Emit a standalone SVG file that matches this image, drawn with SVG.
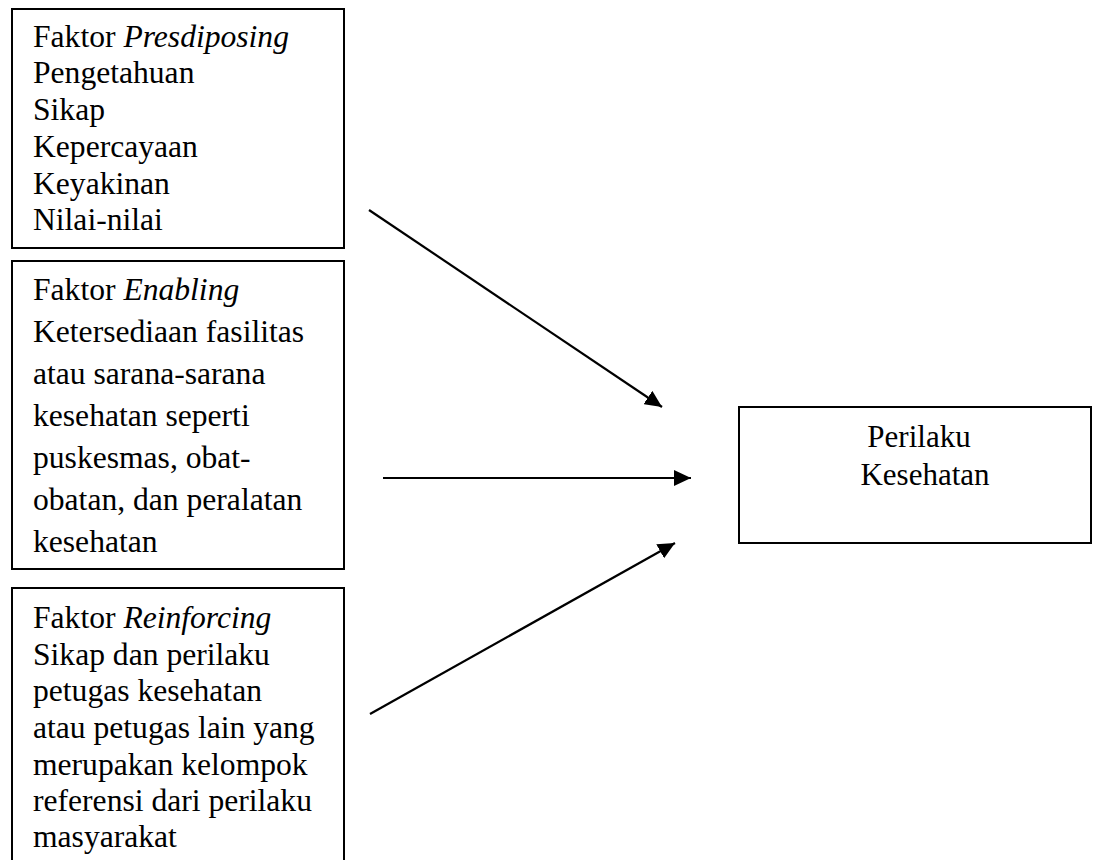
<svg xmlns="http://www.w3.org/2000/svg" width="1101" height="860" viewBox="0 0 1101 860">
<style>
.box{fill:#fff;stroke:#000;stroke-width:2}
.t{font-family:"Liberation Serif","Times New Roman",serif;font-size:31.6px;fill:#000}
.c{font-family:"Liberation Serif","Times New Roman",serif;font-size:31px;fill:#000;text-anchor:middle}
.conn{stroke:#000;stroke-width:2.2;fill:none;marker-end:url(#ah)}
</style>
<defs>
<marker id="ah" markerUnits="userSpaceOnUse" markerWidth="17" markerHeight="16" refX="17" refY="8" orient="auto">
<path d="M0,0 L17,8 L0,16 z" fill="#000"/>
</marker>
</defs>
<rect width="1101" height="860" fill="#fff"/>
<g id="predisposing">
<rect class="box" x="12" y="9" width="332" height="239"/>
<text class="t" x="33" y="46.5">Faktor <tspan font-style="italic">Presdiposing</tspan></text>
<text class="t" x="33" y="83">Pengetahuan</text>
<text class="t" x="33" y="120">Sikap</text>
<text class="t" x="33" y="157">Kepercayaan</text>
<text class="t" x="33" y="194">Keyakinan</text>
<text class="t" x="33" y="230">Nilai-nilai</text>
</g>
<g id="enabling">
<rect class="box" x="12" y="261" width="332" height="308"/>
<text class="t" x="33" y="300">Faktor <tspan font-style="italic">Enabling</tspan></text>
<text class="t" x="33" y="342">Ketersediaan fasilitas</text>
<text class="t" x="33" y="384">atau sarana-sarana</text>
<text class="t" x="33" y="426">kesehatan seperti</text>
<text class="t" x="33" y="468">puskesmas, obat-</text>
<text class="t" x="33" y="510">obatan, dan peralatan</text>
<text class="t" x="33" y="552">kesehatan</text>
</g>
<g id="reinforcing">
<path class="box" d="M12,862 L12,588 L344,588 L344,862" fill="#fff"/>
<text class="t" x="33" y="628">Faktor <tspan font-style="italic">Reinforcing</tspan></text>
<text class="t" x="33" y="665">Sikap dan perilaku</text>
<text class="t" x="33" y="701">petugas kesehatan</text>
<text class="t" x="33" y="738">atau petugas lain yang</text>
<text class="t" x="33" y="775">merupakan kelompok</text>
<text class="t" x="33" y="811">referensi dari perilaku</text>
<text class="t" x="33" y="847">masyarakat</text>
</g>
<g id="perilaku">
<rect class="box" x="739" y="407" width="352" height="136"/>
<text class="c" x="919" y="447">Perilaku</text>
<text class="c" x="925" y="485">Kesehatan</text>
</g>
<g id="connectors">
<line class="conn" x1="369" y1="210" x2="662" y2="407"/>
<line class="conn" x1="383" y1="478" x2="691" y2="478"/>
<line class="conn" x1="370" y1="714" x2="675" y2="543"/>
</g>
</svg>
